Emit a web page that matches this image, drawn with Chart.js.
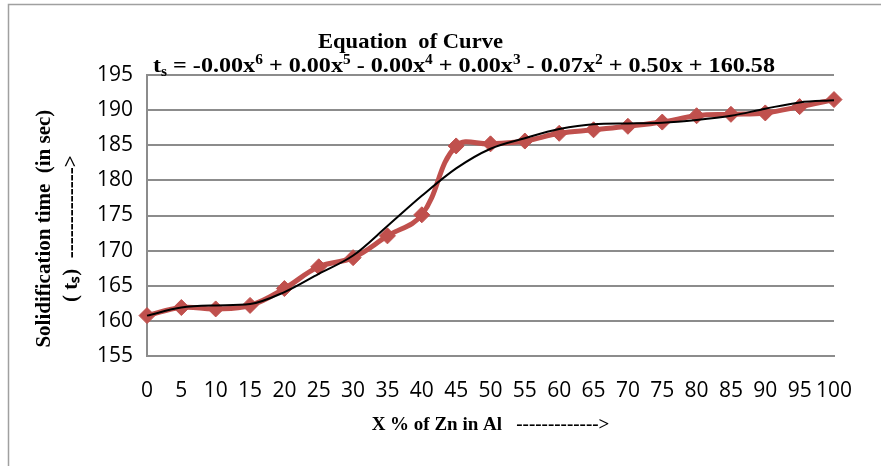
<!DOCTYPE html>
<html>
<head>
<meta charset="utf-8">
<script src="https://cdn.jsdelivr.net/npm/chart.js@4.4.1/dist/chart.umd.min.js"></script>
<style>
  html, body { margin: 0; padding: 0; background: #fff; }
  #box { width: 881px; height: 466px; position: relative; }
</style>
</head>
<body>
<div id="box"><canvas id="myChart" width="881" height="466"></canvas></div>
<script>
// data
var znPercent = ['0','5','10','15','20','25','30','35','40','45','50','55','60','65','70','75','80','85','90','95','100'];
var solidTime = [160.75, 161.9, 161.7, 162.2, 164.6, 167.7, 169.0, 172.1, 175.1, 184.9, 185.2, 185.6, 186.7, 187.2, 187.7, 188.3, 189.2, 189.4, 189.6, 190.5, 191.5];
var trendTime = [160.75, 161.9, 162.2, 162.4, 164.1, 166.7, 169.3, 173.5, 177.8, 181.7, 184.5, 186.0, 187.3, 188.0, 188.1, 188.2, 188.6, 189.2, 190.2, 191.1, 191.4];
var yTicks = { min: 155, max: 195, step: 5 };

var titleText = 'Equation  of Curve';
// equation pieces: [text, kind]  kind: 0 normal, 1 superscript, 2 subscript
var equation = [
  ['t', 0], ['s', 2], [' = -0.00x', 0], ['6', 1], [' + 0.00x', 0], ['5', 1],
  [' - 0.00x', 0], ['4', 1], [' + 0.00x', 0], ['3', 1], [' - 0.07x', 0], ['2', 1],
  [' + 0.50x + 160.58', 0]
];

var serif = '"Liberation Serif", "Times New Roman", serif';
var sans = '"Open Sans", Calibri, sans-serif';

// frame + title with superscripts
var titlePlugin = {
  id: 'eqTitle',
  beforeDraw: function(chart) {
    var ctx = chart.ctx;
    ctx.save();
    ctx.fillStyle = '#fff';
    ctx.fillRect(0, 0, chart.width, chart.height);
    ctx.strokeStyle = '#a0a0a0';
    ctx.lineWidth = 1.5;
    ctx.strokeRect(8.5, 4.5, chart.width + 20, chart.height + 20);
    ctx.restore();
  },
  afterDraw: function(chart) {
    var ctx = chart.ctx;
    ctx.save();
    ctx.fillStyle = '#000';
    ctx.textBaseline = 'alphabetic';

    // first line
    ctx.font = 'bold 21px ' + serif;
    var w1 = ctx.measureText(titleText).width;
    var sx1 = 185 / w1;
    ctx.save();
    ctx.translate(318, 48);
    ctx.scale(sx1, 1);
    ctx.fillText(titleText, 0, 0);
    ctx.restore();

    // equation line
    function fontFor(k) { return k === 0 ? 'bold 22px ' + serif : 'bold 14px ' + serif; }
    var total = 0;
    equation.forEach(function(p) { ctx.font = fontFor(p[1]); total += ctx.measureText(p[0]).width; });
    var sx = 622 / total;
    ctx.save();
    ctx.translate(153, 72);
    ctx.scale(sx, 1);
    var x = 0;
    equation.forEach(function(p) {
      ctx.font = fontFor(p[1]);
      var dy = p[1] === 1 ? -8 : (p[1] === 2 ? 4 : 0);
      ctx.fillText(p[0], x, dy);
      x += ctx.measureText(p[0]).width;
    });
    ctx.restore();
    ctx.restore();
  }
};

var chart = new Chart('myChart', {
  type: 'line',
  data: {
    labels: znPercent,
    datasets: [
      {
        label: 'Solidification time',
        data: solidTime,
        borderColor: '#C0504D',
        backgroundColor: '#C0504D',
        borderWidth: 5,
        tension: 0.4,
        pointStyle: 'rectRot',
        pointRadius: 8,
        pointBorderWidth: 1,
        pointBackgroundColor: '#C0504D',
        pointBorderColor: '#C0504D',
        clip: false,
        order: 2
      },
      {
        label: 'Poly. trend',
        data: trendTime,
        borderColor: '#000',
        borderWidth: 2,
        pointRadius: 0,
        cubicInterpolationMode: 'monotone',
        clip: false,
        order: 1
      }
    ]
  },
  plugins: [titlePlugin],
  options: {
    responsive: false,
    animation: false,
    events: [],
    layout: { padding: { top: 75, right: 47, left: 20, bottom: 0 } },
    plugins: {
      legend: { display: false },
      tooltip: { enabled: false }
    },
    scales: {
      x: {
        offset: false,
        grid: { display: false, drawTicks: false },
        border: { display: true, color: '#8c8c8c', width: 2 },
        ticks: {
          color: '#000',
          font: { family: sans, size: 21 },
          padding: 22,
          maxRotation: 0,
          autoSkip: false
        },
        title: {
          display: true,
          text: 'X % of Zn in Al   ------------->',
          color: '#000',
          font: { family: serif, size: 19, weight: 'bold' },
          padding: { top: 0, bottom: 30 }
        },
        afterFit: function(s) { s.height = 110; }
      },
      y: {
        min: yTicks.min,
        max: yTicks.max,
        grid: { color: '#8c8c8c', lineWidth: 2, drawTicks: false },
        border: { display: true, color: '#8c8c8c', width: 2 },
        ticks: {
          stepSize: yTicks.step,
          color: '#000',
          font: { family: sans, size: 21 },
          padding: 14
        },
        title: {
          display: true,
          text: ['Solidification time  (in sec)     ', '( t\u209B)  ------------->     '],
          color: '#000',
          font: { family: serif, size: 21, weight: 'bold', lineHeight: 1.3 },
          padding: { top: 11, bottom: 0 }
        },
        afterFit: function(s) { s.width = 127; }
      }
    }
  }
});
</script>
</body>
</html>
